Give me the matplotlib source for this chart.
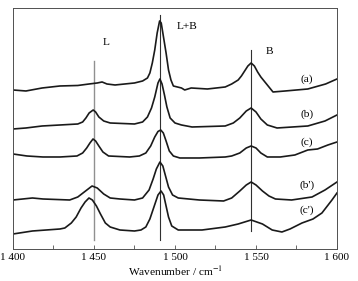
import numpy as np
import matplotlib
matplotlib.use("Agg")
import matplotlib.pyplot as plt
from matplotlib.ticker import MultipleLocator, FuncFormatter

# spectra (wavenumber, intensity in a.u.)
wn_a = [1400, 1408, 1418, 1429, 1440, 1447, 1452, 1455, 1458, 1463, 1475, 1480, 1483,
        1484.5, 1486, 1487.5, 1489, 1490.5, 1491.5, 1493, 1494.5, 1496, 1497.5, 1499,
        1504, 1506, 1510, 1520, 1531, 1535, 1539, 1541, 1543, 1545, 1547, 1549, 1551,
        1553, 1555, 1557, 1560.5, 1568, 1582, 1593, 1600]
int_a = [160, 159, 162, 164, 164.5, 166, 167, 168, 166, 165, 167, 169, 172,
         177, 187, 200, 217, 229, 227, 212, 197, 180, 170, 164,
         162, 160, 162, 161, 163, 166, 170, 174, 179, 184, 187, 184, 178,
         173, 169, 165, 158, 159, 161, 166, 171]

wn_b = [1400, 1408, 1418, 1429, 1440, 1443, 1445, 1447, 1449.5, 1451, 1453, 1456, 1460,
        1475, 1480, 1483, 1485.5, 1487.5, 1489.5, 1490.7, 1492, 1493.5, 1495, 1497,
        1500, 1504, 1510.5, 1531, 1536, 1540, 1544, 1547, 1550, 1553, 1557, 1563,
        1582, 1592.6, 1600]
int_b = [121, 122, 124, 125, 126, 128, 132, 137, 140, 138, 133, 129, 127,
         126, 128, 133, 142, 153, 167, 171, 166, 155, 143, 132,
         127, 125, 123, 124, 127, 132, 139, 142, 138, 131, 125, 122,
         124, 129, 135]

wn_c = [1400, 1408.6, 1418.5, 1429, 1439.5, 1443, 1445.5, 1447.5, 1449.4, 1451, 1453,
        1455.5, 1459, 1472, 1478, 1482, 1485, 1487.5, 1489.5, 1491.2, 1492.8, 1494.5,
        1496.5, 1499, 1503, 1515, 1531, 1535, 1540, 1544, 1547, 1550, 1553, 1557,
        1565, 1574, 1582, 1588, 1594.4, 1600]
int_c = [96, 94, 93, 93, 94, 97, 102, 107, 111, 109, 104,
         98, 94, 93, 94, 97, 104, 113, 118.5, 120, 117, 109,
         99, 94, 92, 92, 93, 94, 97, 102, 104, 102, 97, 93,
         93, 95, 100, 101, 105, 108]

wn_b2 = [1400, 1412, 1418.5, 1435, 1440, 1444, 1448.8, 1452, 1456, 1460, 1466, 1475,
         1480, 1484, 1486.5, 1488.5, 1490.7, 1492.5, 1494, 1496, 1498.5, 1502, 1515,
         1530, 1535, 1540, 1544, 1547, 1550, 1554, 1558, 1562, 1572, 1584.6, 1592.6, 1600]
int_b2 = [50, 52, 51, 50, 53, 58, 64, 62, 56, 52, 51, 50,
          52, 60, 71, 81, 88, 84, 75, 63, 55, 52, 50,
          49, 52, 59, 65, 68, 65, 59, 54, 51, 50, 53, 60, 68]

wn_c2 = [1400, 1412, 1429, 1432, 1436, 1439, 1442, 1444.5, 1446.9, 1449, 1451.5, 1454,
         1457, 1460, 1466, 1475, 1479, 1482, 1484.5, 1487, 1489.5, 1491.4, 1493, 1494.5,
         1496, 1498, 1502, 1516.7, 1531, 1539, 1547, 1554, 1560, 1566, 1571, 1578.4,
         1585.2, 1590.7, 1596.9, 1600]
int_c2 = [16, 19, 21, 22, 27, 33, 42, 48, 52, 50, 44, 36,
          27, 23, 20, 19, 20, 23, 31, 43, 55, 59, 55, 44,
          33, 24, 20, 20, 23, 26, 30, 26, 20, 18, 21, 27,
          31, 37, 50, 57]

curve_labels = ["(a)", "(b)", "(c)", "(b')", "(c')"]
label_y = [171, 136, 108, 65, 40]

band_pos = [1450, 1491, 1547]
band_names = ["L", "L+B", "B"]

plt.rcParams['font.family'] = ['Liberation Serif', 'DejaVu Serif']
plt.rcParams['mathtext.fontset'] = 'stix'

fig = plt.figure(figsize=(3.58, 2.81), dpi=100)
ax = fig.add_axes([0.0363, 0.1139, 0.905, 0.8577])

# band marker lines
ax.plot([band_pos[0]] * 2, [10, 189], color="#909090", lw=1.0)
ax.plot([band_pos[1]] * 2, [10, 235], color="#303030", lw=0.8)
ax.plot([band_pos[2]] * 2, [19, 200], color="#303030", lw=0.8)

for wn, inten in [(wn_a, int_a), (wn_b, int_b), (wn_c, int_c), (wn_b2, int_b2), (wn_c2, int_c2)]:
    ax.plot(wn, inten, color="#1a1a1a", lw=1.2, solid_joinstyle="round")

for lab, y in zip(curve_labels, label_y):
    ax.text(1581.5, y, lab, fontsize=8.2, ha="center", va="center")

ax.text(1457.8, 207, band_names[0], fontsize=8.2, ha="center", va="center")
ax.text(1507.5, 223, band_names[1], fontsize=8.2, ha="center", va="center")
ax.text(1558.6, 198, band_names[2], fontsize=8.2, ha="center", va="center")

ax.set_xlim(1400, 1600)
ax.set_ylim(1, 242)
ax.xaxis.set_major_locator(MultipleLocator(50))
ax.xaxis.set_minor_locator(MultipleLocator(25))
ax.xaxis.set_major_formatter(FuncFormatter(lambda v, p: "{0} {1:03d}".format(int(v) // 1000, int(v) % 1000)))
ax.tick_params(axis="x", which="both", direction="in", length=3, width=0.6,
               color="#505050", labelsize=8, pad=3)
ax.set_yticks([])
for sp in ax.spines.values():
    sp.set_linewidth(0.7)
    sp.set_color("#505050")

ax.set_xlabel("Wavenumber / cm$^{-1}$", fontsize=8.2, labelpad=1.5)

fig.savefig("out.png", dpi=100)
